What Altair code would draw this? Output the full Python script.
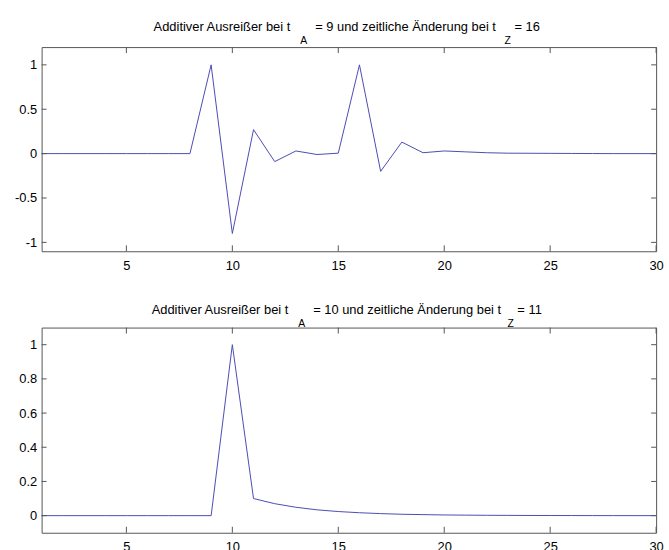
import altair as alt
import pandas as pd

# ---- data ----
t = list(range(1, 31))
top_vals = [0, 0, 0, 0, 0, 0, 0, 0, 1.0, -0.9, 0.27, -0.09, 0.03, -0.01, 0.005,
            1.0, -0.2, 0.13, 0.01, 0.03, 0.02, 0.01, 0.005, 0.004, 0.003, 0.002,
            0.001, 0.0, 0.0, 0.0]
bottom_vals = [0, 0, 0, 0, 0, 0, 0, 0, 0, 1.0, 0.1, 0.07, 0.049, 0.034, 0.024,
               0.017, 0.012, 0.008, 0.006, 0.004, 0.003, 0.002, 0.0015, 0.001,
               0.0007, 0.0005, 0.0003, 0.0002, 0.0001, 0.0001]
x_ticks = [5, 10, 15, 20, 25, 30]
top_y_ticks = [-1, -0.5, 0, 0.5, 1]
bottom_y_ticks = [0, 0.2, 0.4, 0.6, 0.8, 1]
top_title = ["Additiver Ausreißer bei t", "A", "= 9 und zeitliche Änderung bei t", "Z", "= 16"]
bottom_title = ["Additiver Ausreißer bei t", "A", "= 10 und zeitliche Änderung bei t", "Z", "= 11"]

W = 620
FONT = "Liberation Sans"
LINE = "#4b4bb4"
FRAME = "#555555"


def panel(vals, ydom, yticks, title, title_x, base_main, base_sub, h):
    df = pd.DataFrame({"t": t, "v": vals})
    xs = alt.Scale(domain=[1, 30], nice=False, zero=False)
    ys = alt.Scale(domain=ydom, nice=False, zero=False)
    xaxis = alt.Axis(values=x_ticks, title=None, ticks=False, domain=False,
                     grid=False, labelPadding=8, labelFlush=False,
                     labelExpr="'' + datum.value")
    yaxis = alt.Axis(values=yticks, title=None, ticks=False, domain=False,
                     grid=False, labelPadding=5, labelFlush=False,
                     labelExpr="'' + datum.value")
    line = alt.Chart(df).mark_line(color=LINE, strokeWidth=1).encode(
        x=alt.X("t:Q", scale=xs, axis=xaxis),
        y=alt.Y("v:Q", scale=ys, axis=yaxis),
    )
    xt = pd.DataFrame({"x": x_ticks})
    yt = pd.DataFrame({"y": yticks})
    xb = alt.Chart(xt).mark_rule(color=FRAME, strokeWidth=1).encode(
        x=alt.X("x:Q", scale=xs, axis=xaxis), y=alt.value(h), y2=alt.value(h - 6))
    xtp = alt.Chart(xt).mark_rule(color=FRAME, strokeWidth=1).encode(
        x=alt.X("x:Q", scale=xs, axis=xaxis), y=alt.value(0), y2=alt.value(6))
    yl = alt.Chart(yt).mark_rule(color=FRAME, strokeWidth=1).encode(
        y=alt.Y("y:Q", scale=ys, axis=yaxis), x=alt.value(0), x2=alt.value(5))
    yr = alt.Chart(yt).mark_rule(color=FRAME, strokeWidth=1).encode(
        y=alt.Y("y:Q", scale=ys, axis=yaxis), x=alt.value(W - 5), x2=alt.value(W))
    texts = []
    for i, (seg, px) in enumerate(zip(title, title_x)):
        sub = i in (1, 3)
        texts.append(
            alt.Chart(pd.DataFrame({"s": [seg]})).mark_text(
                align="left", baseline="alphabetic", font=FONT,
                fontSize=10.5 if sub else 13, color="black"
            ).encode(text="s:N", x=alt.value(px),
                     y=alt.value(base_sub if sub else base_main))
        )
    return alt.layer(line, xb, xtp, yl, yr, *texts).properties(width=W, height=h)


top = panel(top_vals, [-1.1, 1.2], top_y_ticks, top_title,
            [113, 261, 276, 467, 477], -16, -3, 206)
bottom = panel(bottom_vals, [-0.1, 1.1], bottom_y_ticks, bottom_title,
               [111, 259, 274, 470, 480], -14, -1, 207)

chart = alt.vconcat(top, bottom, spacing=77, bounds="flush").configure_view(
    stroke=FRAME, strokeWidth=1
).configure_axis(
    labelFont=FONT, labelFontSize=13, labelColor="black"
).properties(
    padding={"left": 14, "top": 18, "right": 5, "bottom": 5},
    background="white",
)

chart.save("out.html", embed_options={"renderer": "svg", "actions": False})
